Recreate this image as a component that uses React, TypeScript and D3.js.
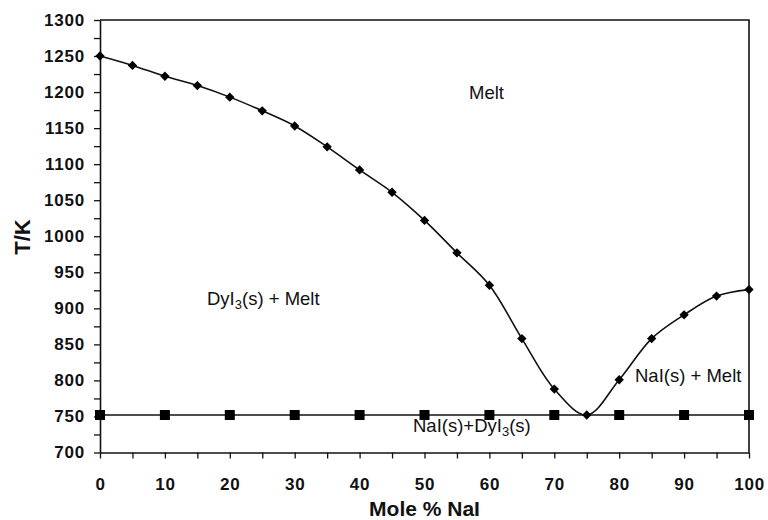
import * as d3 from "d3";
import { useEffect, useRef } from "react";

// ---- data ----
const liquidusX = [0, 5, 10, 15, 20, 25, 30, 35, 40, 45, 50, 55, 60, 65, 70, 75, 80, 85, 90, 95, 100];
const liquidusT = [1250, 1237, 1222, 1209, 1193, 1174, 1153, 1124, 1092, 1061, 1022, 977, 932, 858, 788, 752, 801, 858, 891, 917, 926];
const solidusX = [0, 10, 20, 30, 40, 50, 60, 70, 80, 90, 100];
const solidusT = [752, 752, 752, 752, 752, 752, 752, 752, 752, 752, 752];
const xTicks = [0, 5, 10, 15, 20, 25, 30, 35, 40, 45, 50, 55, 60, 65, 70, 75, 80, 85, 90, 95, 100];
const xLabels = [0, 10, 20, 30, 40, 50, 60, 70, 80, 90, 100];
const yTicks = [700, 725, 750, 775, 800, 825, 850, 875, 900, 925, 950, 975, 1000, 1025, 1050, 1075, 1100, 1125, 1150, 1175, 1200, 1225, 1250, 1275, 1300];
const yLabels = [700, 750, 800, 850, 900, 950, 1000, 1050, 1100, 1150, 1200, 1250, 1300];

export default function App() {
  const ref = useRef<SVGSVGElement | null>(null);

  useEffect(() => {
    const width = 768;
    const height = 520;
    const margin = { top: 20, right: 19, bottom: 67.5, left: 100 };
    const innerW = width - margin.left - margin.right;
    const innerH = height - margin.top - margin.bottom;
    const font = "Liberation Sans, Arial, Helvetica, sans-serif";

    const svg = d3.select(ref.current);
    svg.selectAll("*").remove();

    const g = svg.append("g").attr("transform", `translate(${margin.left},${margin.top})`);

    const x = d3.scaleLinear().domain([0, 100]).range([0, innerW]);
    const y = d3.scaleLinear().domain([700, 1300]).range([innerH, 0]);

    // frame (top + right)
    g.append("path")
      .attr("d", `M0,0H${innerW}V${innerH}`)
      .attr("fill", "none")
      .attr("stroke", "#111")
      .attr("stroke-width", 1.6);

    // y axis
    const yAxis = g.append("g").call(
      d3.axisLeft(y)
        .tickValues(yTicks)
        .tickSize(6)
        .tickSizeOuter(0)
        .tickPadding(9)
        .tickFormat((d) => (yLabels.includes(+d) ? String(d) : ""))
    );

    // x axis
    const xAxis = g.append("g")
      .attr("transform", `translate(0,${innerH})`)
      .call(
        d3.axisBottom(x)
          .tickValues(xTicks)
          .tickSize(6)
          .tickSizeOuter(0)
          .tickPadding(19)
          .tickFormat((d) => (xLabels.includes(+d) ? String(d) : ""))
      );

    [yAxis, xAxis].forEach((a) => {
      a.select(".domain").attr("stroke", "#111").attr("stroke-width", 1.6);
      a.selectAll(".tick line").attr("stroke", "#111").attr("stroke-width", 1.3);
      a.selectAll(".tick text")
        .attr("fill", "#111")
        .attr("font-family", font)
        .attr("font-weight", 700)
        .attr("font-size", 17)
        .attr("letter-spacing", 0.8);
    });

    // solidus line + squares
    const line = d3.line<number>()
      .x((_, i) => x(solidusX[i]))
      .y((d) => y(d));
    g.append("path")
      .datum(solidusT)
      .attr("d", line)
      .attr("fill", "none")
      .attr("stroke", "#111")
      .attr("stroke-width", 1.6);

    g.append("g")
      .selectAll("rect")
      .data(solidusT)
      .join("rect")
      .attr("x", (_, i) => x(solidusX[i]) - 5)
      .attr("y", (d) => y(d) - 5)
      .attr("width", 10)
      .attr("height", 10)
      .attr("fill", "#000");

    // liquidus smoothed line + diamonds
    const curve = d3.line<number>()
      .x((_, i) => x(liquidusX[i]))
      .y((d) => y(d))
      .curve(d3.curveCatmullRom.alpha(0.5));
    g.append("path")
      .datum(liquidusT)
      .attr("d", curve)
      .attr("fill", "none")
      .attr("stroke", "#111")
      .attr("stroke-width", 1.6);

    const diamond = d3.symbol().type(d3.symbolDiamond2).size(56);
    g.append("g")
      .selectAll("path")
      .data(liquidusT)
      .join("path")
      .attr("transform", (d, i) => `translate(${x(liquidusX[i])},${y(d)})`)
      .attr("d", diamond)
      .attr("fill", "#000");

    // region labels
    const label = (px: number, py: number) =>
      svg.append("text")
        .attr("x", px)
        .attr("y", py)
        .attr("font-family", font)
        .attr("font-size", 18.5)
        .attr("fill", "#111");

    label(469, 99).text("Melt");

    const dy = label(207, 305);
    dy.append("tspan").text("DyI");
    dy.append("tspan").attr("font-size", 13).attr("dy", 4).text("3");
    dy.append("tspan").attr("dy", -4).text("(s) + Melt");

    label(635, 381.5).text("NaI(s) + Melt");

    const ns = label(413, 431.5);
    ns.append("tspan").text("NaI(s)+DyI");
    ns.append("tspan").attr("font-size", 13).attr("dy", 4).text("3");
    ns.append("tspan").attr("dy", -4).text("(s)");

    // axis titles
    svg.append("text")
      .attr("x", margin.left + innerW / 2)
      .attr("y", 516)
      .attr("text-anchor", "middle")
      .attr("font-family", font)
      .attr("font-weight", 700)
      .attr("font-size", 21)
      .attr("fill", "#111")
      .text("Mole % NaI");

    svg.append("text")
      .attr("transform", `translate(30,237) rotate(-90)`)
      .attr("text-anchor", "middle")
      .attr("font-family", font)
      .attr("font-weight", 700)
      .attr("font-size", 22)
      .attr("fill", "#111")
      .text("T/K");
  }, []);

  return (
    <svg
      ref={ref}
      width={768}
      height={520}
      style={{ position: "absolute", left: 0, top: 0, background: "#fff" }}
    />
  );
}
